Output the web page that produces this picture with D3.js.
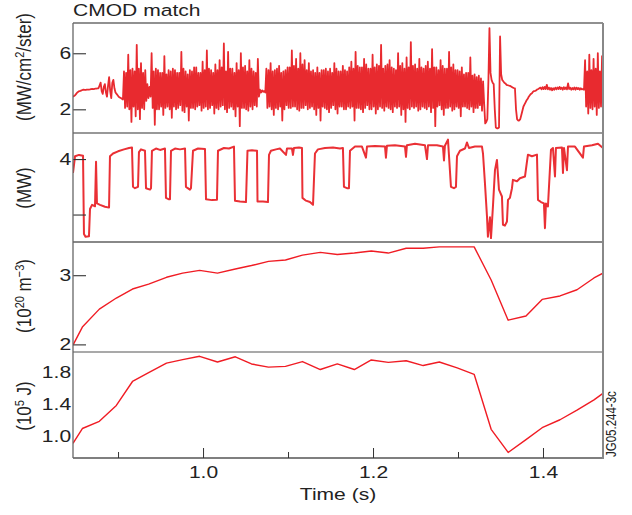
<!DOCTYPE html>
<html>
<head>
<meta charset="utf-8">
<script src="https://cdn.jsdelivr.net/npm/d3@7"></script>
<style>
body { margin: 0; background: #fff; }
text { font-family: "Liberation Sans", Arial, Helvetica, sans-serif; fill: #222; }
</style>
</head>
<body>
<script>
// ---- data ----
// bolometer brightness (MW/cm2/ster), sampled every 1.25 ms from t = 0.847 s
var boloStart = 0.847, boloStep = 0.00125;
var bolo = [
  // quiet start
  2.9, 2.95, 3.0, 3.1, 3.2, 3.25, 3.3, 3.32, 3.35, 3.38,
  3.4, 3.39, 3.38, 3.4, 3.4, 3.41, 3.42, 3.44, 3.45, 3.44,
  3.45, 3.47, 3.48, 3.5, 3.5, 3.7, 3.9, 3.3, 3.1, 3.6,
  3.8, 3.2, 2.9, 3.7, 4.3, 3.3, 2.8, 3.9, 4.1, 3.5,
  3.2, 3.1, 3.0, 2.9, 2.85, 2.8, 2.75, 2.7,
  // noisy phase
  4.7, 2.1, 4.6, 2.2,  5.9, 2.0, 4.8, 1.1,  4.9, 2.2, 4.7, 1.5,  6.6, 2.0, 4.9, 1.3,
  5.3, 2.1, 4.6, 2.0,  4.8, 2.6, 3.8, 2.8,  3.6, 2.9, 6.0, 2.1,  4.7, 0.9, 4.9, 2.0,
  4.8, 2.0, 4.6, 2.2,  4.6, 1.6, 5.8, 2.1,  4.5, 2.2, 4.8, 2.0,  4.7, 1.4, 4.9, 2.2,
  4.8, 2.0, 4.6, 2.1,  4.6, 2.3, 6.1, 1.9,  4.9, 1.8, 4.7, 2.2,  4.5, 1.2, 4.8, 2.1,
  4.7, 2.1, 5.0, 2.0,  5.0, 2.2, 4.6, 2.3,  4.6, 1.9, 5.4, 2.1,  4.8, 2.2, 6.2, 2.0,
  4.9, 2.1, 4.8, 2.3,  4.6, 1.7, 5.2, 2.1,  4.8, 2.0, 5.5, 2.2,  5.0, 2.3, 6.7, 2.0,
  4.7, 1.8, 6.1, 2.1,  4.9, 2.2, 4.9, 2.0,  4.6, 1.5, 5.3, 2.2,  4.8, 0.8, 6.0, 2.1,
  5.0, 2.1, 5.1, 2.0,  4.7, 1.9, 5.5, 2.2,  4.9, 2.0, 4.7, 2.3,  4.6, 2.2, 5.6, 2.9,
  3.4, 3.2, 3.35, 3.25, 3.3, 3.2, 4.9, 2.1, 4.8, 2.2, 5.3, 2.0,  4.7, 1.6, 4.8, 2.1,
  4.9, 2.0, 5.1, 2.2,  4.6, 1.2, 4.7, 2.0,  4.8, 2.3, 5.0, 2.1,  5.0, 2.1, 6.2, 2.2,
  5.1, 2.2, 5.6, 2.0,  4.9, 1.9, 6.0, 2.1,  5.2, 2.1, 5.5, 2.3,  4.8, 2.0, 5.3, 2.1,
  4.7, 2.2, 4.8, 2.0,  4.6, 1.6, 5.0, 2.1,  4.6, 1.2, 4.8, 2.2,  4.8, 2.1, 4.9, 2.0,
  4.7, 1.8, 4.9, 2.1,  4.6, 2.3, 5.3, 2.0,  4.9, 1.7, 4.7, 2.2,  4.7, 2.2, 5.1, 2.0,
  4.8, 2.0, 4.7, 2.2,  5.0, 2.1, 5.4, 2.2,  4.9, 1.2, 6.1, 2.1,  5.1, 2.1, 5.0, 2.0,
  5.0, 1.8, 5.6, 2.1,  5.2, 2.3, 4.9, 2.0,  4.9, 2.0, 5.9, 2.2,  5.0, 1.7, 5.2, 2.0,
  5.1, 2.2, 6.6, 2.1,  4.9, 1.9, 5.1, 2.2,  5.2, 2.1, 5.5, 2.0,  5.0, 1.8, 4.9, 2.2,
  4.8, 2.1, 6.0, 2.2,  5.1, 1.6, 5.3, 2.0,  4.9, 1.1, 5.7, 2.1,  5.0, 2.0, 6.8, 2.2,
  5.1, 2.1, 5.2, 2.2,  4.9, 1.9, 5.6, 2.0,  5.0, 2.2, 4.9, 2.1,  5.1, 2.0, 5.4, 2.2,
  4.9, 1.8, 6.3, 2.1,  5.0, 0.8, 5.0, 2.2,  4.8, 2.3, 5.5, 2.0,  5.1, 1.6, 4.9, 2.1,
  4.9, 2.1, 6.1, 2.2,  5.0, 1.9, 5.2, 2.0,  4.8, 2.2, 4.8, 2.1,  4.7, 1.5, 5.0, 2.2,
  4.5, 2.2, 4.6, 2.1,  4.6, 2.0, 5.7, 2.2,  4.4, 1.8, 4.5, 2.1,  4.3, 2.1, 4.4, 2.3,
  4.2, 1.9, 4.0, 2.4,
  // crash and recovery
  1.0, 1.1, 1.3, 4.0, 7.8, 4.6, 4.1, 3.9, 3.8, 2.0,
  0.7, 0.65, 0.65, 0.7, 7.2, 4.5, 4.1, 4.0, 3.9, 3.85,
  3.75, 3.72, 3.7, 3.68, 3.65, 3.6, 3.55, 3.52, 3.5, 2.0,
  1.3, 1.2, 1.2, 1.3, 1.6, 1.9, 2.2, 2.35, 2.5, 2.65,
  2.75, 2.9, 3.0, 3.1, 3.15, 3.25, 3.3, 3.32, 3.35, 3.42,
  3.45, 3.5,
  3.55, 3.42, 3.58, 3.44, 3.6, 3.45, 3.75, 3.42, 3.55, 3.4,
  3.52, 3.36, 3.5, 3.4, 3.55, 3.42, 3.56, 3.44, 3.6, 3.45,
  3.55, 3.4, 3.58, 3.44, 3.56, 3.42, 3.85, 3.45, 3.55, 3.4,
  3.52, 3.42, 3.56, 3.4, 3.55, 3.44, 3.52, 3.4, 3.5, 3.42,
  3.45, 3.4,
  // noisy again at the end
  5.5, 2.2, 4.7, 1.7, 5.9, 2.1, 4.8, 2.0,
  5.6, 2.2, 4.9, 1.6, 6.0, 2.1, 4.7, 2.2, 5.8, 2.5
];

// input power (MW)
var powerTime = [
  0.8470, 0.8494, 0.8541, 0.8588, 0.8599, 0.8617, 0.8658, 0.8670, 0.8694, 0.8729,
  0.8741, 0.8752, 0.8788, 0.8846, 0.8894, 0.8905, 0.8941, 0.9000, 0.9070, 0.9129,
  0.9164, 0.9176, 0.9199, 0.9235, 0.9246, 0.9270, 0.9317, 0.9329, 0.9376, 0.9388,
  0.9399, 0.9446, 0.9494, 0.9552, 0.9564, 0.9599, 0.9611, 0.9623, 0.9670, 0.9729,
  0.9788, 0.9799, 0.9846, 0.9858, 0.9882, 0.9941, 1.0023, 1.0035, 1.0105, 1.0164,
  1.0176, 1.0246, 1.0305, 1.0364, 1.0376, 1.0435, 1.0505, 1.0523, 1.0576, 1.0635,
  1.0641, 1.0705, 1.0764, 1.0776, 1.0799, 1.0858, 1.0905, 1.0976, 1.0988, 1.1046,
  1.1058, 1.1070, 1.1129, 1.1164, 1.1170, 1.1211, 1.1258, 1.1294, 1.1317, 1.1352,
  1.1435, 1.1529, 1.1611, 1.1646, 1.1658, 1.1694, 1.1717, 1.1729, 1.1788, 1.1870,
  1.1917, 1.1929, 1.2023, 1.2141, 1.2152, 1.2164, 1.2258, 1.2376, 1.2388, 1.2399,
  1.2494, 1.2611, 1.2635, 1.2647, 1.2752, 1.2823, 1.2835, 1.2846, 1.2882, 1.2917,
  1.2952, 1.2976, 1.2988, 1.3023, 1.3082, 1.3105, 1.3129, 1.3199, 1.3282, 1.3294,
  1.3317, 1.3341, 1.3352, 1.3376, 1.3388, 1.3411, 1.3435, 1.3458, 1.3482, 1.3517,
  1.3529, 1.3552, 1.3576, 1.3588, 1.3611, 1.3635, 1.3646, 1.3694, 1.3729, 1.3788,
  1.3811, 1.3823, 1.3870, 1.3929, 1.3941, 1.3976, 1.4011, 1.4023, 1.4035, 1.4058,
  1.4094, 1.4117, 1.4141, 1.4152, 1.4223, 1.4235, 1.4247, 1.4282, 1.4294, 1.4376,
  1.4470, 1.4482, 1.4576, 1.4647, 1.4706
];
var power = [
  3.5, 4.1, 4.15, 4.12, 1.3, 1.2, 1.22, 2.2, 2.35, 2.3,
  3.9, 2.4, 2.35, 2.28, 2.25, 4.1, 4.2, 4.28, 4.35, 4.4,
  4.42, 3.0, 2.95, 3.0, 4.25, 4.35, 4.3, 2.95, 2.9, 2.95,
  4.3, 4.38, 4.33, 4.38, 2.6, 2.55, 2.55, 4.3, 4.38, 4.35,
  4.38, 3.0, 2.9, 2.95, 4.3, 4.38, 4.36, 2.55, 2.52, 2.53,
  4.3, 4.4, 4.38, 4.45, 2.5, 2.47, 2.45, 4.3, 4.32, 4.3,
  2.47, 2.47, 2.45, 4.15, 4.3, 4.35, 4.38, 4.15, 4.38, 4.38,
  4.15, 4.4, 4.42, 4.4, 2.6, 2.5, 2.45, 2.35, 4.2, 4.35,
  4.4, 4.42, 4.38, 4.4, 3.0, 2.95, 2.95, 4.3, 4.45, 4.45,
  4.05, 4.45, 4.47, 4.45, 4.05, 4.48, 4.5, 4.45, 4.08, 4.5,
  4.55, 4.5, 4.0, 4.5, 4.5, 4.45, 3.95, 4.48, 4.7, 3.0,
  2.95, 3.0, 4.1, 4.3, 4.38, 4.6, 4.4, 4.45, 4.45, 4.2,
  3.13, 1.93, 1.2, 1.9, 1.15, 2.29, 3.6, 3.97, 2.9, 2.65,
  1.63, 1.6, 1.75, 2.53, 2.6, 2.95, 3.25, 3.2, 3.31, 3.37,
  3.9, 4.16, 4.1, 4.16, 2.53, 2.45, 2.4, 1.51, 2.4, 2.29,
  4.34, 4.4, 3.37, 4.4, 4.42, 3.5, 4.4, 3.6, 4.45, 4.45,
  4.05, 4.45, 4.5, 4.55, 4.4
];

// line-averaged density (1e20 m^-3) and stored energy (1e5 J), ~20 ms samples
var sampleTime = [
  0.847, 0.858, 0.878, 0.898, 0.917, 0.936, 0.957, 0.976, 0.996, 1.017,
  1.038, 1.057, 1.077, 1.097, 1.117, 1.138, 1.158, 1.178, 1.198, 1.218,
  1.239, 1.259, 1.278, 1.299, 1.319, 1.339, 1.359, 1.380, 1.399, 1.420,
  1.440, 1.460, 1.4705
];
var density = [
  1.99, 2.25, 2.51, 2.67, 2.80, 2.87, 2.97, 3.03, 3.07, 3.03,
  3.09, 3.14, 3.20, 3.22, 3.29, 3.33, 3.30, 3.32, 3.35, 3.32,
  3.39, 3.39, 3.41, 3.41, 3.41, 2.93, 2.35, 2.41, 2.65, 2.70,
  2.79, 2.96, 3.03
];
var energy = [
  0.905, 1.09, 1.18, 1.38, 1.68, 1.79, 1.91, 1.955, 1.996, 1.925,
  1.99, 1.90, 1.86, 1.87, 1.93, 1.83, 1.90, 1.83, 1.95, 1.92,
  1.94, 1.88, 1.925, 1.85, 1.77, 1.08, 0.79, 0.95, 1.10, 1.20,
  1.32, 1.45, 1.53
];

// tick values
var boloTicks = [2, 6], boloLabels = [2, 6];
var powerTicks = [2, 4], powerLabels = [4];
var densityTicks = [2, 3], densityLabels = [2, 3];
var energyTicks = [1.0, 1.4, 1.8], energyLabels = [1.0, 1.4, 1.8];
var timeMajor = [1.0, 1.2, 1.4], timeMinor = [0.9, 1.1, 1.3];

// ---- layout ----
var width = 632, height = 515;
var left = 73, right = 603;
var stretch = 1.24; // the figure is a bit wider than its glyphs

var svg = d3.select("body").append("svg")
    .attr("width", width)
    .attr("height", height);

var x = d3.scaleLinear().domain([0.847, 1.4706]).range([left, right]);

var panels = [
  {top: 23,  bottom: 133, domain: [0.31, 8.16], ticks: boloTicks, labels: boloLabels, tick: 13,
   t: bolo.map(function(d, i) { return boloStart + boloStep * i; }), v: bolo,
   color: "#e82a2f", width: 1.8, labelY: 67},
  {top: 133, bottom: 242, domain: [1.01, 4.94], ticks: powerTicks, labels: powerLabels, tick: 13,
   t: powerTime, v: power, color: "#ea3035", width: 2, labelY: 188},
  {top: 242, bottom: 352, domain: [1.89, 3.48], ticks: densityTicks, labels: densityLabels, tick: 13,
   t: sampleTime, v: density, color: "#f01c24", width: 1.4, labelY: 296},
  {top: 352, bottom: 458, domain: [0.72, 2.05], ticks: energyTicks, labels: energyLabels, tick: 0,
   t: sampleTime, v: energy, color: "#f01c24", width: 1.4, labelY: 406}
];

panels.forEach(function(p, k) {
  var y = d3.scaleLinear().domain(p.domain).range([p.bottom, p.top]);

  svg.append("clipPath").attr("id", "clip" + k)
    .append("rect")
      .attr("x", left).attr("y", p.top)
      .attr("width", right - left).attr("height", p.bottom - p.top);

  var line = d3.line()
      .x(function(d) { return x(d[0]); })
      .y(function(d) { return y(d[1]); });

  svg.append("path")
      .datum(p.t.map(function(t, i) { return [t, p.v[i]]; }))
      .attr("clip-path", "url(#clip" + k + ")")
      .attr("fill", "none")
      .attr("stroke", p.color)
      .attr("stroke-width", p.width)
      .attr("stroke-linejoin", "round")
      .attr("d", line);

  // y axis, ticks pointing into the plot
  var ax = svg.append("g")
      .attr("transform", "translate(" + left + ",0)")
      .call(d3.axisLeft(y)
        .tickValues(p.ticks)
        .tickSizeInner(-p.tick)
        .tickSizeOuter(0)
        .tickPadding(1.5)
        .tickFormat(function(d) {
          return p.labels.indexOf(d) >= 0 ? (k == 3 ? d3.format(".1f")(d) : d) : "";
        }));
  ax.select(".domain").remove();
  ax.selectAll(".tick line").attr("stroke", "#333").attr("stroke-width", 1.1);
  ax.selectAll(".tick text")
      .attr("fill", "#222")
      .style("font-size", "17px")
      .style("font-family", "'Liberation Sans', Arial, sans-serif")
      .attr("transform", "scale(" + stretch + ",1)");
});

// panel frame
var frame = svg.append("g");
frame.append("line").attr("x1", left).attr("x2", right).attr("y1", 23).attr("y2", 23)
    .attr("stroke", "#222").attr("stroke-width", 1.2);
[{y: 133, c: "#333", w: 1.2}, {y: 242, c: "#888", w: 2}, {y: 352, c: "#555", w: 1.2}, {y: 458, c: "#555", w: 1.6}]
  .forEach(function(s) {
    frame.append("line").attr("x1", left).attr("x2", right).attr("y1", s.y).attr("y2", s.y)
        .attr("stroke", s.c).attr("stroke-width", s.w);
  });
frame.append("line").attr("x1", left).attr("x2", left).attr("y1", 23).attr("y2", 458)
    .attr("stroke", "#666").attr("stroke-width", 1.3);
frame.append("line").attr("x1", right).attr("x2", right).attr("y1", 23).attr("y2", 459)
    .attr("stroke", "#888").attr("stroke-width", 2);

// time axis: minor and major ticks inside the bottom panel
var minorAx = svg.append("g")
    .attr("transform", "translate(0,458)")
    .call(d3.axisBottom(x).tickValues(timeMinor).tickSizeInner(-6).tickSizeOuter(0).tickFormat(""));
minorAx.select(".domain").remove();
var majorAx = svg.append("g")
    .attr("transform", "translate(0,458)")
    .call(d3.axisBottom(x).tickValues(timeMajor).tickSizeInner(-10).tickSizeOuter(0)
      .tickPadding(8).tickFormat(d3.format(".1f")));
majorAx.select(".domain").remove();
svg.selectAll(".tick line").attr("stroke", "#333");
majorAx.selectAll(".tick text")
    .attr("fill", "#222")
    .style("font-size", "17px")
    .style("font-family", "'Liberation Sans', Arial, sans-serif")
    .attr("transform", "scale(" + stretch + ",1)");

// titles
svg.append("text")
    .attr("transform", "translate(" + left + ",16) scale(" + stretch + ",1)")
    .style("font-size", "17px")
    .text("CMOD match");

svg.append("text")
    .attr("transform", "translate(" + ((left + right) / 2) + ",500) scale(" + stretch + ",1)")
    .attr("text-anchor", "middle")
    .style("font-size", "17px")
    .text("Time (s)");

function yLabel(cy, parts) {
  var t = svg.append("text")
      .attr("transform", "translate(31," + cy + ") scale(" + stretch + ",1) rotate(-90)")
      .attr("text-anchor", "middle")
      .style("font-size", "17px");
  parts.forEach(function(s) {
    var ts = t.append("tspan").text(s[0]);
    if (s[1] == "sup") ts.attr("dy", -6).style("font-size", "11px");
    if (s[1] == "down") ts.attr("dy", 6);
  });
}
yLabel(panels[0].labelY, [["(MW/cm"], ["2", "sup"], ["/ster)", "down"]]);
yLabel(panels[1].labelY, [["(MW)"]]);
yLabel(panels[2].labelY, [["(10"], ["20", "sup"], [" m", "down"], ["\u22123", "sup"], [")", "down"]]);
yLabel(panels[3].labelY, [["(10"], ["5", "sup"], [" J)", "down"]]);

svg.append("text")
    .attr("transform", "translate(616,457) scale(" + stretch + ",1) rotate(-90)")
    .style("font-size", "11.5px")
    .text("JG05.244-3c");
</script>
</body>
</html>
